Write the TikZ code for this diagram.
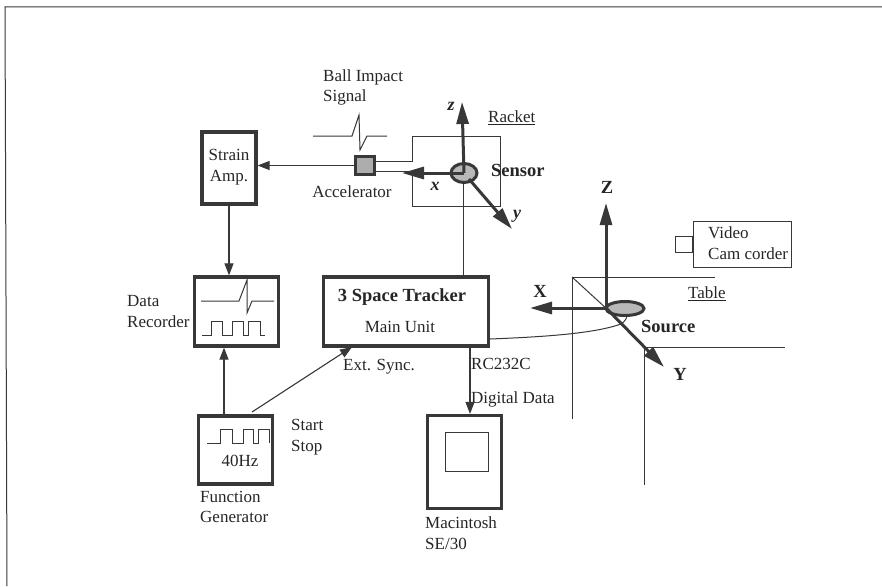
\documentclass[tikz,border=0pt]{standalone}
\usepackage{fontspec}
\setmainfont{Liberation Serif}
\usetikzlibrary{arrows.meta}
\definecolor{ink}{gray}{0.22}
\tikzset{
 box/.style={draw=ink,line width=3.2pt,fill=white,inner sep=0pt},
 thin line/.style={draw=ink,line width=1pt},
 conn/.style={draw=ink,line width=1.1pt,-{Triangle[length=12pt,width=9pt]}},
 axis/.style={draw=ink,line width=3pt,-{Triangle[length=22pt,width=12pt]}},
 lab/.style={font=\fontsize{17}{20.5}\selectfont,text=black!85,inner sep=0pt,align=left},
 blab/.style={font=\fontsize{18.5}{21}\selectfont\bfseries,text=black!85,inner sep=0pt},
 ilab/.style={font=\fontsize{18}{21}\selectfont\bfseries\itshape,text=black!85,inner sep=0pt},
 plain box/.style={draw=ink,line width=1pt,inner sep=0pt}
}
\begin{document}
\begin{tikzpicture}[x=1pt,y=-1pt]
\useasboundingbox (0,0) rectangle (882,586);
\fill[white] (0,0) rectangle (882,586);
% frame
\draw[thin line] (7,586) -- (5,7) -- (882,7);
% boxes
\node[box,minimum width=54,minimum height=72] (strain) at (229,168) {};
\node[box,minimum width=84,minimum height=69] (rec) at (236.5,311.5) {};
\node[box,minimum width=165,minimum height=69] (track) at (406,311.5) {};
\node[box,minimum width=74,minimum height=68] (gen) at (235.5,450) {};
\node[box,minimum width=74,minimum height=93] (mac) at (464.5,462) {};
\node[plain box,minimum width=43,minimum height=39] (screen) at (466.5,451.5) {};
\node[plain box,minimum width=98,minimum height=46] (video) at (742,244) {};
\node[plain box,minimum width=17,minimum height=16,anchor=east] (lens) at (video.west) {};
\node[box,fill=black!32,minimum width=19,minimum height=18] (acc) at (365,165.5) {};
% racket, table
\coordinate (rk1) at (412,161);
\coordinate (rk2) at (412,136);
\coordinate (rk3) at (500,136);
\coordinate (rk4) at (500,206);
\coordinate (rk5) at (412,206);
\coordinate (rk6) at (412,171);
\draw[thin line] (acc.east |- rk1) -- (rk1) -- (rk2) -- (rk3) -- (rk4) -- (rk5) -- (rk6);
\coordinate (ta) at (572,277);
\draw[thin line] (715,277) -- (ta) -- (572,419);
\draw[thin line] (ta) -- (608,310);
\draw[thin line] (785,347) -- (644,347) -- (644,485);
% texts
\node[blab] (t1) at (402,297) {3 Space Tracker};
\node[lab] (t2) at (400,327) {Main Unit};
\node[lab,align=center] (st) at (229,167) {Strain\\Amp.};
\node[lab,anchor=west] (dr) at (127,311.5) {Data\\Recorder};
\node[lab,anchor=west] (bi) at (323,87.5) {Ball Impact\\Signal};
\node[lab] (ac) at (352,192) {Accelerator};
\node[lab,anchor=west] (rk) at (488,118) {\underline{Racket}};
\node[blab,anchor=west] (sn) at (491,170) {Sensor};
\node[lab,anchor=west] (es) at (343,367) {Ext. Sync.};
\node[lab,anchor=west] (rc) at (471,364) {RC232C};
\node[lab,anchor=west] (dd) at (471,399) {Digital Data};
\node[lab,anchor=west] (ss) at (291,437) {Start\\Stop};
\node[lab] (hz) at (240,461) {40Hz};
\node[lab,anchor=west] (fg) at (200,507) {Function\\Generator};
\node[lab,anchor=west] (mc) at (425,533) {Macintosh\\SE/30};
\node[lab,anchor=west] (vc) at (708,243) {Video\\Cam corder};
\node[lab,anchor=west] (tb) at (688,294) {\underline{Table}};
\node[blab,anchor=west] (so) at (641,326) {Source};
\node[ilab] (lz) at (451,106) {z};
\node[ilab] (lx) at (435,186) {x};
\node[ilab] (ly) at (517,216) {y};
\node[blab] (lZ) at (607,187) {Z};
\node[blab] (lX) at (540,291) {X};
\node[blab] (lY) at (680,374) {Y};
% connectors
\coordinate (accin) at (acc.east |- rk6);
\coordinate (xt) at (402,173);
\draw[conn] (acc.west) -- (acc.west -| strain.east);
\draw[conn] (strain.south) -- (strain.south |- rec.north);
\coordinate (g1) at (224,415);
\draw[conn] (g1) -- (g1 |- rec.south);
\coordinate (g2) at (252,412);
\coordinate (g3) at (352,347);
\draw[conn] (g2) -- (g3);
\coordinate (m1) at (470,347);
\draw[conn] (m1) -- (m1 |- mac.north);
\coordinate (s1) at (463,178);
\draw[thin line] (s1) -- (s1 |- track.north);
\draw[thin line] (accin) -- (412,171);
\coordinate (s2) at (618,325);
\draw[thin line] (track.east |- 0,339) .. controls (540,337) and (590,334) .. (s2) .. controls (622,324) and (626,321) .. (627,316);
% sensor
\draw[draw=ink,line width=3pt,fill=black!28] (464,173) ellipse (13 and 9.5);
\draw[axis] (464,173) -- (462,102);
\draw[axis] (464,173) -- (xt);
\draw[axis] (469,179) -- (512,229);
% source
\draw[draw=ink,line width=3pt,fill=black!28] (625,308.5) ellipse (19 and 7);
\draw[axis] (606,308) -- (606,203);
\draw[axis] (606,308) -- (530,308);
\draw[axis] (606,308) -- (664,367);
% signals
\draw[thin line] (313,136) -- (352,136) -- (359,115) -- (360,150) -- (367,136) -- (387,136);
\draw[thin line] (201,301) -- (239,301) -- (247,280) -- (247,313) -- (252,301) -- (274,301);
\draw[thin line] (202,335) -- (211,335) -- (211,321) -- (222,321) -- (222,335) -- (232,335) -- (232,321) -- (243,321) -- (243,335) -- (248,335) -- (248,321) -- (260,321) -- (260,335) -- (265,335);
\draw[thin line] (207,443) -- (220,443) -- (220,429) -- (232,429) -- (232,443) -- (243,443) -- (243,429) -- (253,429) -- (253,443) -- (258,443) -- (258,429) -- (269,429) -- (269,443);
\end{tikzpicture}
\end{document}
